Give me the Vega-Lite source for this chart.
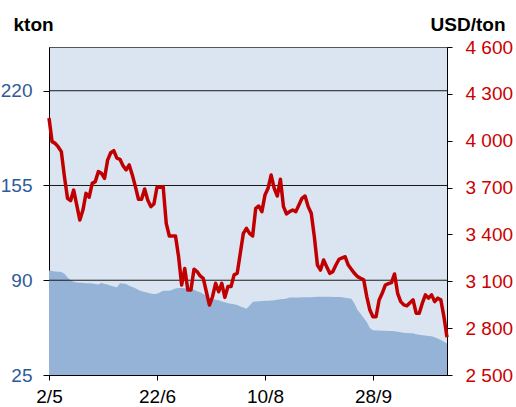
{
  "$schema": "https://vega.github.io/schema/vega-lite/v6.json",
  "width": 398,
  "height": 328,
  "autosize": {"type": "none"},
  "padding": {"left": 49, "top": 47, "right": 69, "bottom": 32},
  "background": "white",
  "config": {
    "view": {"fill": "#dbe5f1", "stroke": "#555555", "strokeWidth": 1},
    "font": "Liberation Sans"
  },
  "data": {
    "values": [
      {"i":0,"kt":96.7,"p":4145},{"i":1,"kt":96.4,"p":3994},{"i":2,"kt":96.0,"p":3983},{"i":3,"kt":95.9,"p":3960},
      {"i":4,"kt":95.7,"p":3930},{"i":5,"kt":94.4,"p":3770},{"i":6,"kt":92.0,"p":3631},{"i":7,"kt":90.0,"p":3616},
      {"i":8,"kt":89.0,"p":3684},{"i":9,"kt":88.5,"p":3588},{"i":10,"kt":88.3,"p":3492},{"i":11,"kt":88.3,"p":3556},
      {"i":12,"kt":88.0,"p":3663},{"i":13,"kt":87.9,"p":3638},{"i":14,"kt":87.8,"p":3727},{"i":15,"kt":87.5,"p":3738},
      {"i":16,"kt":87.1,"p":3802},{"i":17,"kt":88.3,"p":3791},{"i":18,"kt":87.4,"p":3759},{"i":19,"kt":87.0,"p":3876},
      {"i":20,"kt":86.3,"p":3923},{"i":21,"kt":85.7,"p":3936},{"i":22,"kt":85.2,"p":3888},{"i":23,"kt":87.9,"p":3881},
      {"i":24,"kt":87.8,"p":3840},{"i":25,"kt":87.4,"p":3813},{"i":26,"kt":86.2,"p":3845},{"i":27,"kt":85.4,"p":3781},
      {"i":28,"kt":84.5,"p":3706},{"i":29,"kt":83.3,"p":3625},{"i":30,"kt":82.4,"p":3625},{"i":31,"kt":81.9,"p":3691},
      {"i":32,"kt":81.4,"p":3621},{"i":33,"kt":80.9,"p":3578},{"i":34,"kt":80.6,"p":3595},{"i":35,"kt":80.8,"p":3702},
      {"i":36,"kt":81.8,"p":3702},{"i":37,"kt":82.8,"p":3706},{"i":38,"kt":82.8,"p":3471},{"i":39,"kt":82.8,"p":3390},
      {"i":40,"kt":83.5,"p":3390},{"i":41,"kt":84.4,"p":3390},{"i":42,"kt":84.6,"p":3258},{"i":43,"kt":84.6,"p":3076},
      {"i":44,"kt":84.5,"p":3182},{"i":45,"kt":84.4,"p":3044},{"i":46,"kt":84.0,"p":3044},{"i":47,"kt":83.5,"p":3177},
      {"i":48,"kt":82.5,"p":3162},{"i":49,"kt":81.8,"p":3134},{"i":50,"kt":80.5,"p":3119},{"i":51,"kt":79.3,"p":3033},
      {"i":52,"kt":77.8,"p":2948},{"i":53,"kt":77.2,"p":3001},{"i":54,"kt":76.7,"p":3087},{"i":55,"kt":76.2,"p":3033},
      {"i":56,"kt":75.5,"p":3087},{"i":57,"kt":74.9,"p":2997},{"i":58,"kt":74.3,"p":3066},{"i":59,"kt":73.9,"p":3066},
      {"i":60,"kt":73.6,"p":3141},{"i":61,"kt":73.0,"p":3152},{"i":62,"kt":72.0,"p":3279},{"i":63,"kt":71.3,"p":3407},
      {"i":64,"kt":70.4,"p":3439},{"i":65,"kt":72.5,"p":3407},{"i":66,"kt":75.1,"p":3390},{"i":67,"kt":75.4,"p":3567},
      {"i":68,"kt":75.6,"p":3582},{"i":69,"kt":75.8,"p":3546},{"i":70,"kt":75.9,"p":3652},{"i":71,"kt":76.0,"p":3695},
      {"i":72,"kt":76.1,"p":3780},{"i":73,"kt":76.3,"p":3695},{"i":74,"kt":76.6,"p":3646},{"i":75,"kt":76.9,"p":3753},
      {"i":76,"kt":77.2,"p":3578},{"i":77,"kt":77.4,"p":3531},{"i":78,"kt":78.1,"p":3546},{"i":79,"kt":78.2,"p":3556},
      {"i":80,"kt":78.2,"p":3546},{"i":81,"kt":78.2,"p":3588},{"i":82,"kt":78.3,"p":3631},{"i":83,"kt":78.3,"p":3646},
      {"i":84,"kt":78.4,"p":3578},{"i":85,"kt":78.4,"p":3535},{"i":86,"kt":78.5,"p":3386},{"i":87,"kt":78.6,"p":3204},
      {"i":88,"kt":78.7,"p":3172},{"i":89,"kt":78.7,"p":3236},{"i":90,"kt":78.6,"p":3193},{"i":91,"kt":78.6,"p":3151},
      {"i":92,"kt":78.5,"p":3162},{"i":93,"kt":78.5,"p":3204},{"i":94,"kt":78.5,"p":3241},{"i":95,"kt":78.3,"p":3250},
      {"i":96,"kt":78.0,"p":3257},{"i":97,"kt":77.7,"p":3204},{"i":98,"kt":77.3,"p":3177},{"i":99,"kt":74.0,"p":3151},
      {"i":100,"kt":69.6,"p":3130},{"i":101,"kt":67.0,"p":3119},{"i":102,"kt":64.1,"p":3109},{"i":103,"kt":61.4,"p":3002},
      {"i":104,"kt":57.2,"p":2916},{"i":105,"kt":55.7,"p":2873},{"i":106,"kt":55.5,"p":2873},{"i":107,"kt":55.5,"p":2980},
      {"i":108,"kt":55.4,"p":3023},{"i":109,"kt":55.4,"p":3076},{"i":110,"kt":55.2,"p":3085},{"i":111,"kt":55.1,"p":3091},
      {"i":112,"kt":55.0,"p":3147},{"i":113,"kt":54.6,"p":3023},{"i":114,"kt":54.3,"p":2970},{"i":115,"kt":54.0,"p":2949},
      {"i":116,"kt":53.8,"p":2943},{"i":117,"kt":53.7,"p":2963},{"i":118,"kt":53.6,"p":2981},{"i":119,"kt":53.0,"p":2896},
      {"i":120,"kt":52.6,"p":2896},{"i":121,"kt":52.3,"p":2960},{"i":122,"kt":52.1,"p":3013},{"i":123,"kt":51.8,"p":2992},
      {"i":124,"kt":51.5,"p":3013},{"i":125,"kt":50.9,"p":2970},{"i":126,"kt":50.0,"p":2992},{"i":127,"kt":49.0,"p":2981},
      {"i":128,"kt":47.8,"p":2874},{"i":129,"kt":46.6,"p":2741}
    ]
  },
  "layer": [
    {
      "layer": [
        {
          "mark": {"type": "area", "color": "#95b3d7", "opacity": 1},
          "encoding": {
            "x": {
              "field": "i", "type": "quantitative",
              "scale": {"domain": [0, 129], "nice": false, "zero": false},
              "axis": {
                "values": [0, 35, 70, 105],
                "labelExpr": "datum.value == 0 ? '2/5' : datum.value == 35 ? '22/6' : datum.value == 70 ? '10/8' : '28/9'",
                "title": null, "grid": false,
                "labelFontSize": 19, "labelColor": "#000000", "labelFlush": false,
                "tickSize": 5, "tickColor": "#000000", "domainColor": "#000000",
                "labelPadding": 7
              }
            },
            "y": {
              "field": "kt", "type": "quantitative",
              "scale": {"domain": [25, 250], "nice": false, "zero": false},
              "axis": {
                "values": [25, 90, 155, 220],
                "grid": false,
                "labelFontSize": 19, "labelColor": "#2f5a9a",
                "tickSize": 6, "tickColor": "#000000", "domainColor": "#000000",
                "labelPadding": 11,
                "title": "kton", "titleAngle": 0, "titleAlign": "left", "titleBaseline": "alphabetic",
                "titleX": -36, "titleY": -17, "titleFontSize": 19, "titleFontWeight": "bold", "titleColor": "#000000"
              }
            },
            "y2": {"datum": 25}
          }
        },
        {
          "data": {"values": [{"g": 90}, {"g": 155}, {"g": 220}]},
          "mark": {"type": "rule", "color": "#1a1a1a", "strokeWidth": 1},
          "encoding": {
            "y": {
              "field": "g", "type": "quantitative",
              "axis": {
                "values": [25, 90, 155, 220],
                "grid": false,
                "labelFontSize": 19, "labelColor": "#2f5a9a",
                "tickSize": 6, "tickColor": "#000000", "domainColor": "#000000",
                "labelPadding": 11,
                "title": "kton", "titleAngle": 0, "titleAlign": "left", "titleBaseline": "alphabetic",
                "titleX": -36, "titleY": -17, "titleFontSize": 19, "titleFontWeight": "bold", "titleColor": "#000000"
              }
            }
          }
        }
      ]
    },
    {
      "mark": {"type": "line", "color": "#c00000", "strokeWidth": 3.5, "strokeJoin": "round"},
      "encoding": {
        "x": {
          "field": "i", "type": "quantitative",
          "scale": {"domain": [0, 129], "nice": false, "zero": false}
        },
        "y": {
          "field": "p", "type": "quantitative",
          "scale": {"domain": [2500, 4600], "nice": false, "zero": false},
          "axis": {
            "orient": "right",
            "values": [2500, 2800, 3100, 3400, 3700, 4000, 4300, 4600],
            "labelExpr": "replace(format(datum.value, ','), ',', ' ')",
            "grid": false,
            "labelFontSize": 19, "labelColor": "#cc0000",
            "tickSize": 5, "tickColor": "#000000", "domainColor": "#000000",
            "labelPadding": 13,
            "title": "USD/ton", "titleAngle": 0, "titleAlign": "right", "titleBaseline": "alphabetic",
            "titleX": 58, "titleY": -17, "titleFontSize": 19, "titleFontWeight": "bold", "titleColor": "#000000"
          }
        }
      }
    }
  ],
  "resolve": {"scale": {"y": "independent"}}
}
